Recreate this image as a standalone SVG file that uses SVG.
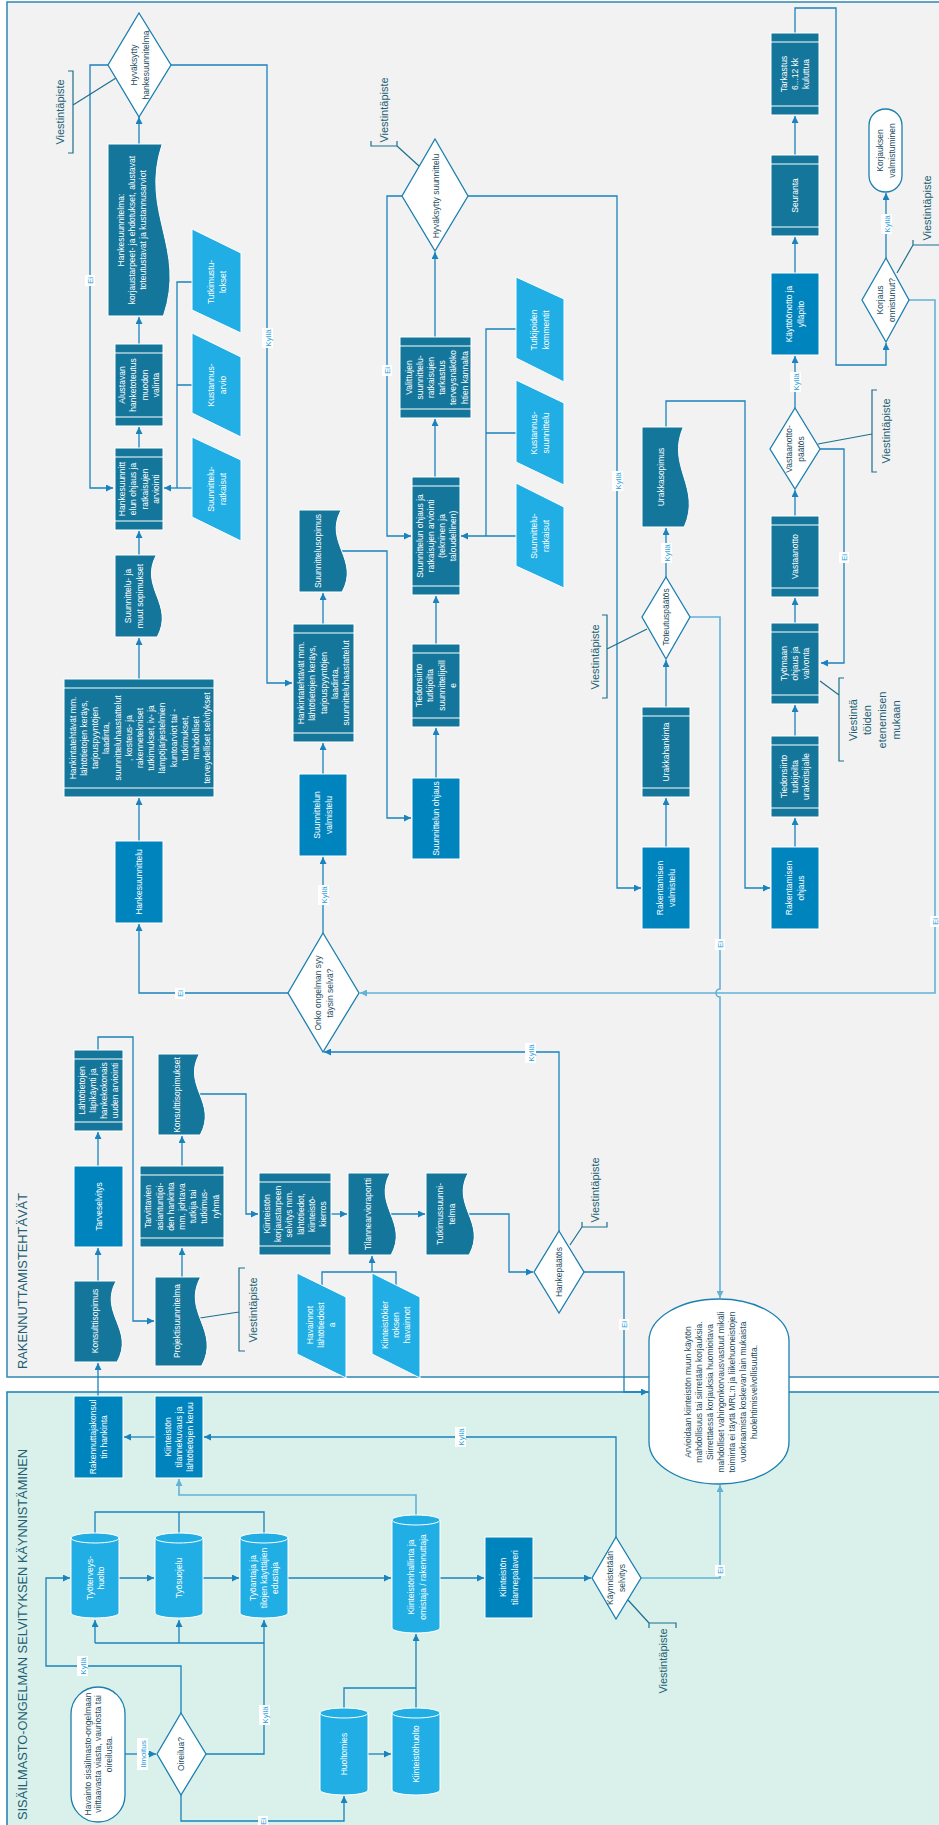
<svg xmlns="http://www.w3.org/2000/svg" width="939" height="1825" viewBox="0 0 939 1825">
<style>
.lt{fill:#f2f2f2;stroke:#2e87b2;stroke-width:1.5}
.lb{fill:#daf1eb;stroke:#1a7fb5;stroke-width:1.5}
.dk{fill:#15769b;stroke:#fff;stroke-width:1}
.pl{fill:#0084be;stroke:#fff;stroke-width:1}
.li{fill:#20aee4;stroke:#fff;stroke-width:1}
.bd{stroke:#fff;stroke-width:1.2}
.rim{fill:none;stroke:#fff;stroke-width:1}
.di{fill:#fff;stroke:#1b7fb0;stroke-width:1.3}
.tm{fill:#fff;stroke:#1b7fb0;stroke-width:1.3}
.c{fill:none;stroke:#1a82bd;stroke-width:1.3}
.ca{fill:none;stroke:#1a82bd;stroke-width:1.3;marker-end:url(#ah)}
.cl{fill:none;stroke:#62b2d8;stroke-width:1.6}
.cla{fill:none;stroke:#62b2d8;stroke-width:1.6;marker-end:url(#ahl)}
.br{fill:none;stroke:#1d6f8e;stroke-width:1.2}
text{font-family:"Liberation Sans",Arial,sans-serif;text-anchor:middle}
.tw{fill:#fff;font-size:8.5px}
.td{fill:#1d4d5f;font-size:8.5px}
.vp{fill:#235f74;font-size:11px}
.lbr{fill:#fff}
.lbt{fill:#2a9fda;font-size:8px}
.ttl{fill:#235f74;font-size:13px;text-anchor:start}
</style>
<defs>
<marker id="ah" viewBox="0 0 8 8" refX="8" refY="4" markerWidth="7" markerHeight="7" markerUnits="userSpaceOnUse" orient="auto"><path d="M0,0L8,4L0,8z" fill="#1a82bd"/></marker>
<marker id="ahl" viewBox="0 0 8 8" refX="8" refY="4" markerWidth="7" markerHeight="7" markerUnits="userSpaceOnUse" orient="auto"><path d="M0,0L8,4L0,8z" fill="#62b2d8"/></marker>
</defs>

<g id="lanes">
<rect class="lt" x="7" y="2" width="940" height="1375"/>
<rect class="lb" x="7" y="1392" width="940" height="445"/>
<text class="ttl" transform="translate(27,1369) rotate(-90)" textLength="176" lengthAdjust="spacingAndGlyphs">RAKENNUTTAMISTEHTÄVÄT</text>
<text class="ttl" transform="translate(27,1820) rotate(-90)" textLength="371" lengthAdjust="spacingAndGlyphs">SISÄILMASTO-ONGELMAN SELVITYKSEN KÄYNNISTÄMINEN</text>
</g>

<g id="connectors">
<path class="ca" d="M139,144V117"/>
<path class="ca" d="M108,65H90V488H113"/>
<path class="ca" d="M171,65H267V683H292"/>
<path class="ca" d="M139,344V317"/>
<path class="ca" d="M139,448V427"/>
<path class="ca" d="M139,555V531"/>
<path class="ca" d="M139,679V638"/>
<path class="ca" d="M139,841V798"/>
<path class="ca" d="M288,993H139V924"/>
<path class="c" d="M192,282H177V488M192,385H177"/>
<path class="ca" d="M192,488H164"/>
<path class="ca" d="M402,196H387V536H411"/>
<path class="ca" d="M468,196H617V888H641"/>
<path class="ca" d="M435,337V252"/>
<path class="ca" d="M435,477V419"/>
<path class="c" d="M516,329H486V536M516,433H486"/>
<path class="ca" d="M516,536H461"/>
<path class="ca" d="M342,551H387V818H411"/>
<path class="ca" d="M323,624V593"/>
<path class="ca" d="M323,774V743"/>
<path class="ca" d="M323,933V857"/>
<path class="ca" d="M436,644V596"/>
<path class="ca" d="M436,778V728"/>
<path class="ca" d="M666,577V528"/>
<path class="ca" d="M666,427V401H745V888H770"/>
<path class="ca" d="M666,707V660"/>
<path class="ca" d="M666,847V798"/>
<path class="cla" d="M690,617H720V989A4,4 0 0 0 720,997V1298"/>
<path class="ca" d="M795,33V8H836V365H886V343"/>
<path class="ca" d="M795,155V116"/>
<path class="ca" d="M795,273V237"/>
<path class="ca" d="M795,408V356"/>
<path class="ca" d="M795,516V490"/>
<path class="ca" d="M820,449H844V663H821"/>
<path class="ca" d="M795,623V598"/>
<path class="ca" d="M795,736V705"/>
<path class="ca" d="M795,847V818"/>
<path class="ca" d="M886,258V193"/>
<path class="cla" d="M909,300H935V993H360"/>
<path class="ca" d="M98,1050V1037H133V1321H154"/>
<path class="ca" d="M200,1094H246V1214H258"/>
<path class="ca" d="M98,1166V1132"/>
<path class="ca" d="M182,1166V1136"/>
<path class="ca" d="M331,1214H347"/>
<path class="ca" d="M391,1214H425"/>
<path class="ca" d="M469,1214H509V1272H533"/>
<path class="ca" d="M559,1231V1052H324"/>
<path class="ca" d="M584,1272H624V1392H648"/>
<path class="c" d="M322,1285V1272H396V1285"/>
<path class="ca" d="M372,1272V1256"/>
<path class="ca" d="M182,1277V1248"/>
<path class="ca" d="M98,1281V1248"/>
<path class="ca" d="M98,1396V1363"/>
<path class="ca" d="M155,1437H124"/>
<path class="ca" d="M616,1537V1437H204"/>
<path class="cla" d="M416,1515V1495H179V1479"/>
<path class="c" d="M95,1533V1512H264V1533M179,1512V1533"/>
<path class="ca" d="M119,1578H154"/>
<path class="ca" d="M203,1578H239"/>
<path class="ca" d="M288,1578H391"/>
<path class="ca" d="M440,1578H484"/>
<path class="ca" d="M533,1578H591"/>
<path class="cla" d="M641,1578H720V1485"/>
<path class="ca" d="M206,1754H264V1620"/>
<path class="c" d="M95,1643H264"/>
<path class="ca" d="M95,1643V1620"/>
<path class="ca" d="M179,1643V1620"/>
<path class="ca" d="M181,1713V1666H46V1578H70"/>
<path class="ca" d="M181,1795V1821H344V1796"/>
<path class="ca" d="M125,1754H156"/>
<path class="ca" d="M368,1754H391"/>
<path class="ca" d="M416,1708V1634"/>
<path class="c" d="M344,1708V1688H416"/>
<!-- labels -->
<g>
<rect class="lbr" x="85" y="275" width="10" height="11"/><text class="lbt" transform="translate(90,280.5) rotate(-90)" y="3">Ei</text>
<rect class="lbr" x="262" y="328" width="11" height="20"/><text class="lbt" transform="translate(267.5,338) rotate(-90)" y="3">Kyllä</text>
<rect class="lbr" x="175" y="988" width="10" height="11"/><text class="lbt" transform="translate(180,993.5) rotate(-90)" y="3">Ei</text>
<rect class="lbr" x="382" y="365" width="10" height="11"/><text class="lbt" transform="translate(387,370.5) rotate(-90)" y="3">Ei</text>
<rect class="lbr" x="612" y="471" width="11" height="20"/><text class="lbt" transform="translate(617.5,481) rotate(-90)" y="3">Kyllä</text>
<rect class="lbr" x="318" y="885" width="11" height="20"/><text class="lbt" transform="translate(323.5,895) rotate(-90)" y="3">Kyllä</text>
<rect class="lbr" x="661" y="543" width="11" height="20"/><text class="lbt" transform="translate(666.5,553) rotate(-90)" y="3">Kyllä</text>
<rect class="lbr" x="715" y="939" width="10" height="11"/><text class="lbt" transform="translate(720,944.5) rotate(-90)" y="3">Ei</text>
<rect class="lbr" x="790" y="372" width="11" height="20"/><text class="lbt" transform="translate(795.5,382) rotate(-90)" y="3">Kyllä</text>
<rect class="lbr" x="839" y="552" width="10" height="11"/><text class="lbt" transform="translate(844,557.5) rotate(-90)" y="3">Ei</text>
<rect class="lbr" x="881" y="214" width="11" height="20"/><text class="lbt" transform="translate(886.5,224) rotate(-90)" y="3">Kyllä</text>
<rect class="lbr" x="930" y="916" width="10" height="11"/><text class="lbt" transform="translate(935,921.5) rotate(-90)" y="3">Ei</text>
<rect class="lbr" x="525" y="1043" width="11" height="20"/><text class="lbt" transform="translate(530.5,1053) rotate(-90)" y="3">Kyllä</text>
<rect class="lbr" x="619" y="1319" width="10" height="11"/><text class="lbt" transform="translate(624,1324.5) rotate(-90)" y="3">Ei</text>
<rect class="lbr" x="455" y="1427" width="11" height="20"/><text class="lbt" transform="translate(460.5,1437) rotate(-90)" y="3">Kyllä</text>
<rect class="lbr" x="715" y="1565" width="10" height="11"/><text class="lbt" transform="translate(720,1570.5) rotate(-90)" y="3">Ei</text>
<rect class="lbr" x="259" y="1705" width="11" height="20"/><text class="lbt" transform="translate(264.5,1715) rotate(-90)" y="3">Kyllä</text>
<rect class="lbr" x="77" y="1656" width="11" height="20"/><text class="lbt" transform="translate(82.5,1666) rotate(-90)" y="3">Kyllä</text>
<rect class="lbr" x="258" y="1816" width="10" height="11"/><text class="lbt" transform="translate(263,1821.5) rotate(-90)" y="3">Ei</text>
<rect class="lbr" x="137" y="1738" width="11" height="32"/><text class="lbt" transform="translate(142.5,1754) rotate(-90)" y="3">Ilmoitus</text>
</g>
</g>

<g id="viestinta">
<path class="br" d="M116,78L73,105M68,71H73V153H68"/>
<text class="vp" transform="translate(60,112) rotate(-90)" y="3.9">Viestintäpiste</text>
<path class="br" d="M419,166L397,146M371,141V146H397V141"/>
<text class="vp" transform="translate(384,110) rotate(-90)" y="3.9">Viestintäpiste</text>
<path class="br" d="M647,629L607,649M602,615H607V698H602"/>
<text class="vp" transform="translate(595,657) rotate(-90)" y="3.9">Viestintäpiste</text>
<path class="br" d="M818,444L872,434M877,390H872V472H877"/>
<text class="vp" transform="translate(886,431) rotate(-90)" y="3.9">Viestintäpiste</text>
<path class="br" d="M820,681L839,695M844,678H839V761H844"/>
<text class="vp" transform="translate(874.5,720) rotate(-90)"><tspan x="0" y="-17.55">Viestintä</tspan><tspan x="0" y="-3.25">töiden</tspan><tspan x="0" y="11.05">etenemisen</tspan><tspan x="0" y="25.35">mukaan</tspan></text>
<path class="br" d="M897,273L913,245M913,240V245H939"/>
<text class="vp" transform="translate(927,208) rotate(-90)" y="3.9">Viestintäpiste</text>
<path class="br" d="M570,1245L582,1227M582,1222V1227H607V1222"/>
<text class="vp" transform="translate(595,1190) rotate(-90)" y="3.9">Viestintäpiste</text>
<path class="br" d="M200,1318L239,1312M245,1268H239V1351H245"/>
<text class="vp" transform="translate(253,1310) rotate(-90)" y="3.9">Viestintäpiste</text>
<path class="br" d="M628,1600L649,1623M649,1628V1623H676V1628"/>
<text class="vp" transform="translate(663,1661) rotate(-90)" y="3.9">Viestintäpiste</text>
</g>

<g id="n-hyv-hanke"><polygon class="di" points="139,13 171,65 139,117 108,65"/>
<text class="td" transform="translate(140,65) rotate(-90)"><tspan x="0" y="-2.6">Hyväksytty</tspan><tspan x="0" y="8.6">hankesuunnitelma</tspan></text></g>

<g id="n-hankesuunnitelma"><path class="dk" d="M108,144H162.2C139.5,212.8 186.75,247.2 163.4,316H108Z"/>
<text class="tw" transform="translate(132,230) rotate(-90)"><tspan x="0" y="-8.2">Hankesuunnitelma:</tspan><tspan x="0" y="3">korjaustarpeet- ja ehdotukset, alustavat</tspan><tspan x="0" y="14.2">toteutustavat ja kustannusarviot</tspan></text></g>

<g id="n-tutkimustulokset"><polygon class="li" points="192,229 241,253 241,333 192,310"/>
<text class="tw" transform="translate(217,282) rotate(-90)"><tspan x="0" y="-2.6">Tutkimustu-</tspan><tspan x="0" y="8.6">lokset</tspan></text></g>

<g id="n-alustavan"><rect class="dk" x="115" y="344" width="48" height="82"/><path class="bd" d="M115,353H163M115,417H163"/>
<text class="tw" transform="translate(139,385) rotate(-90)"><tspan x="0" y="-13.8">Alustavan</tspan><tspan x="0" y="-2.6">hanketoteutus</tspan><tspan x="0" y="8.6">muodon</tspan><tspan x="0" y="19.8">valinta</tspan></text></g>

<g id="n-kustannusarvio"><polygon class="li" points="192,333 241,357 241,437 192,413"/>
<text class="tw" transform="translate(217,385) rotate(-90)"><tspan x="0" y="-2.6">Kustannus-</tspan><tspan x="0" y="8.6">arvio</tspan></text></g>

<g id="n-hankeohjaus"><rect class="dk" x="115" y="448" width="48" height="82"/><path class="bd" d="M115,457H163M115,521H163"/>
<text class="tw" transform="translate(139,489) rotate(-90)"><tspan x="0" y="-13.8">Hankesuunnitt</tspan><tspan x="0" y="-2.6">elun ohjaus ja</tspan><tspan x="0" y="8.6">ratkaisujen</tspan><tspan x="0" y="19.8">arviointi</tspan></text></g>

<g id="n-suunnratk1"><polygon class="li" points="192,437 241,460 241,541 192,517"/>
<text class="tw" transform="translate(217,489) rotate(-90)"><tspan x="0" y="-2.6">Suunnittelu-</tspan><tspan x="0" y="8.6">ratkaisut</tspan></text></g>

<g id="n-muutsopimukset"><path class="dk" d="M115,555H156.3C139,587.8 175,604.2 157.2,637H115Z"/>
<text class="tw" transform="translate(134,596) rotate(-90)"><tspan x="0" y="-2.6">Suunnittelu- ja</tspan><tspan x="0" y="8.6">muut sopimukset</tspan></text></g>

<g id="n-hankinta1"><rect class="dk" x="64" y="679" width="150" height="118"/><path class="bd" d="M64,688H214M64,788H214"/>
<text class="tw" transform="translate(140,738) rotate(-90)"><tspan x="0" y="-64.2">Hankintatehtävät mm.</tspan><tspan x="0" y="-53">lähtötietojen keräys,</tspan><tspan x="0" y="-41.8">tarjouspyyntöjen</tspan><tspan x="0" y="-30.6">laadinta,</tspan><tspan x="0" y="-19.4">suunnitteluhaastattelut</tspan><tspan x="0" y="-8.2">, kosteus- ja</tspan><tspan x="0" y="3">rakennetekniset</tspan><tspan x="0" y="14.2">tutkimukset, iv- ja</tspan><tspan x="0" y="25.4">lämpöjärjestelmien</tspan><tspan x="0" y="36.6">kuntoarviot tai -</tspan><tspan x="0" y="47.8">tutkimukset,</tspan><tspan x="0" y="59">mahdolliset</tspan><tspan x="0" y="70.2">terveydelliset selvitykset</tspan></text></g>

<g id="n-hankesuunnittelu"><rect class="pl" x="115" y="841" width="48" height="82"/>
<text class="tw" transform="translate(139,882) rotate(-90)" y="3">Hankesuunnittelu</text></g>

<g id="n-hyv-suunn"><polygon class="di" points="435,139 468,196 435,251 402,196"/>
<text class="td" transform="translate(436,196) rotate(-90)" y="3">Hyväksytty suunnittelu</text></g>

<g id="n-valittujen"><rect class="dk" x="400" y="337" width="71" height="81"/><path class="bd" d="M400,346H471M400,409H471"/>
<text class="tw" transform="translate(436.5,377.5) rotate(-90)"><tspan x="0" y="-25">Valittujen</tspan><tspan x="0" y="-13.8">suunnittelu-</tspan><tspan x="0" y="-2.6">ratkaisujen</tspan><tspan x="0" y="8.6">tarkastus</tspan><tspan x="0" y="19.8">terveysnäköko</tspan><tspan x="0" y="31">htien kannalta</tspan></text></g>

<g id="n-tutkijoiden"><polygon class="li" points="516,277 564,299 564,382 516,358"/>
<text class="tw" transform="translate(540,330) rotate(-90)"><tspan x="0" y="-2.6">Tutkijoiden</tspan><tspan x="0" y="8.6">kommentit</tspan></text></g>

<g id="n-kustsuunn"><polygon class="li" points="516,380 564,403 564,485 516,462"/>
<text class="tw" transform="translate(540,433) rotate(-90)"><tspan x="0" y="-2.6">Kustannus-</tspan><tspan x="0" y="8.6">suunnittelu</tspan></text></g>

<g id="n-suunnratk2"><polygon class="li" points="516,483 564,507 564,588 516,566"/>
<text class="tw" transform="translate(540,536) rotate(-90)"><tspan x="0" y="-2.6">Suunnittelu-</tspan><tspan x="0" y="8.6">ratkaisut</tspan></text></g>

<g id="n-suunnohj-ratk"><rect class="dk" x="412" y="477" width="48" height="118"/><path class="bd" d="M412,486H460M412,586H460"/>
<text class="tw" transform="translate(436.5,536) rotate(-90)"><tspan x="0" y="-13.8">Suunnittelun ohjaus ja</tspan><tspan x="0" y="-2.6">ratkaisujen arviointi</tspan><tspan x="0" y="8.6">(tekninen ja</tspan><tspan x="0" y="19.8">taloudellinen)</tspan></text></g>

<g id="n-suunnittelusopimus"><path class="dk" d="M299,510H341.1C323.5,542.8 360.25,559.2 342.1,592H299Z"/>
<text class="tw" transform="translate(318,551) rotate(-90)" y="3">Suunnittelusopimus</text></g>

<g id="n-hankinta2"><rect class="dk" x="293" y="624" width="61" height="118"/><path class="bd" d="M293,633H354M293,733H354"/>
<text class="tw" transform="translate(323.5,683) rotate(-90)"><tspan x="0" y="-19.4">Hankintatehtävät mm.</tspan><tspan x="0" y="-8.2">lähtötietojen keräys,</tspan><tspan x="0" y="3">tarjouspyyntöjen</tspan><tspan x="0" y="14.2">laadinta,</tspan><tspan x="0" y="25.4">suunnitteluhaastattelut</tspan></text></g>

<g id="n-suunnvalm"><rect class="pl" x="299" y="774" width="48" height="82"/>
<text class="tw" transform="translate(323,815) rotate(-90)"><tspan x="0" y="-2.6">Suunnittelun</tspan><tspan x="0" y="8.6">valmistelu</tspan></text></g>

<g id="n-tiedonsiirto1"><rect class="dk" x="412" y="644" width="48" height="83"/><path class="bd" d="M412,653H460M412,718H460"/>
<text class="tw" transform="translate(436,685.5) rotate(-90)"><tspan x="0" y="-13.8">Tiedonsiirto</tspan><tspan x="0" y="-2.6">tutkijoilta</tspan><tspan x="0" y="8.6">suunnittelijoill</tspan><tspan x="0" y="19.8">e</tspan></text></g>

<g id="n-suunnohj"><rect class="pl" x="412" y="778" width="48" height="81"/>
<text class="tw" transform="translate(436,818.5) rotate(-90)" y="3">Suunnittelun ohjaus</text></g>

<g id="n-urakkasopimus"><path class="dk" d="M642,427H683.3C666,467 702,487 684.2,527H642Z"/>
<text class="tw" transform="translate(661,477) rotate(-90)" y="3">Urakkasopimus</text></g>

<g id="n-toteutuspaatos"><polygon class="di" points="666,577 690,617 666,659 642,617"/>
<text class="td" transform="translate(666,617) rotate(-90)" y="3">Toteutuspäätös</text></g>

<g id="n-urakkahankinta"><rect class="dk" x="642" y="707" width="48" height="90"/><path class="bd" d="M642,716H690M642,788H690"/>
<text class="tw" transform="translate(666,752) rotate(-90)" y="3">Urakkahankinta</text></g>

<g id="n-rakvalm"><rect class="pl" x="642" y="847" width="48" height="82"/>
<text class="tw" transform="translate(666,888) rotate(-90)"><tspan x="0" y="-2.6">Rakentamisen</tspan><tspan x="0" y="8.6">valmistelu</tspan></text></g>

<g id="n-tarkastus"><rect class="dk" x="771" y="33" width="48" height="82"/><path class="bd" d="M771,42H819M771,106H819"/>
<text class="tw" transform="translate(795,74) rotate(-90)"><tspan x="0" y="-8.2">Tarkastus</tspan><tspan x="0" y="3">6...12 kk</tspan><tspan x="0" y="14.2">kuluttua</tspan></text></g>

<g id="n-seuranta"><rect class="dk" x="771" y="155" width="48" height="81"/><path class="bd" d="M771,164H819M771,227H819"/>
<text class="tw" transform="translate(795,195.5) rotate(-90)" y="3">Seuranta</text></g>

<g id="n-kayttoonotto"><rect class="pl" x="771" y="273" width="48" height="82"/>
<text class="tw" transform="translate(795,314) rotate(-90)"><tspan x="0" y="-2.6">Käyttöönotto ja</tspan><tspan x="0" y="8.6">ylläpito</tspan></text></g>

<g id="n-vastaanottopaatos"><polygon class="di" points="795,408 820,449 795,489 770,449"/>
<text class="td" transform="translate(795,449) rotate(-90)"><tspan x="0" y="-2.6">Vastaanotto-</tspan><tspan x="0" y="8.6">päätös</tspan></text></g>

<g id="n-vastaanotto"><rect class="dk" x="771" y="516" width="48" height="81"/><path class="bd" d="M771,525H819M771,588H819"/>
<text class="tw" transform="translate(795,556.5) rotate(-90)" y="3">Vastaanotto</text></g>

<g id="n-tyomaan"><rect class="dk" x="771" y="623" width="48" height="81"/><path class="bd" d="M771,632H819M771,695H819"/>
<text class="tw" transform="translate(795,663.5) rotate(-90)"><tspan x="0" y="-8.2">Työmaan</tspan><tspan x="0" y="3">ohjaus ja</tspan><tspan x="0" y="14.2">valvonta</tspan></text></g>

<g id="n-tiedonsiirto2"><rect class="dk" x="771" y="736" width="48" height="81"/><path class="bd" d="M771,745H819M771,808H819"/>
<text class="tw" transform="translate(795,776.5) rotate(-90)"><tspan x="0" y="-8.2">Tiedonsiirto</tspan><tspan x="0" y="3">tutkijoilta</tspan><tspan x="0" y="14.2">urakoitsijalle</tspan></text></g>

<g id="n-rakohj"><rect class="pl" x="771" y="847" width="48" height="82"/>
<text class="tw" transform="translate(795,888) rotate(-90)"><tspan x="0" y="-2.6">Rakentamisen</tspan><tspan x="0" y="8.6">ohjaus</tspan></text></g>

<g id="n-korjauksen"><rect class="tm" x="869" y="109" width="33" height="83" rx="16.5" ry="16.5"/>
<text class="td" transform="translate(886,150.5) rotate(-90)"><tspan x="0" y="-2.6">Korjauksen</tspan><tspan x="0" y="8.6">valmistuminen</tspan></text></g>

<g id="n-korjaus-onn"><polygon class="di" points="886,258 909,300 886,342 862,300"/>
<text class="td" transform="translate(886,300) rotate(-90)"><tspan x="0" y="-2.6">Korjaus</tspan><tspan x="0" y="8.6">onnistunut?</tspan></text></g>

<g id="n-onko"><polygon class="di" points="323,933 359,993 323,1052 288,993"/>
<text class="td" transform="translate(324,993) rotate(-90)"><tspan x="0" y="-2.6">Onko ongelman syy</tspan><tspan x="0" y="8.6">täysin selvä?</tspan></text></g>

<g id="n-lahtotietojen"><rect class="dk" x="74" y="1050" width="49" height="81"/><path class="bd" d="M74,1059H123M74,1122H123"/>
<text class="tw" transform="translate(98.5,1090.5) rotate(-90)"><tspan x="0" y="-13.8">Lähtötietojen</tspan><tspan x="0" y="-2.6">läpikäynti ja</tspan><tspan x="0" y="8.6">hankekokonais</tspan><tspan x="0" y="19.8">uuden arviointi</tspan></text></g>

<g id="n-konsulttisopimukset"><path class="dk" d="M158,1054H199.3C182,1086.4 218,1102.6 200.2,1135H158Z"/>
<text class="tw" transform="translate(177,1095) rotate(-90)" y="3">Konsulttisopimukset</text></g>

<g id="n-tarveselvitys"><rect class="pl" x="74" y="1166" width="49" height="81"/>
<text class="tw" transform="translate(98.5,1206.5) rotate(-90)" y="3">Tarveselvitys</text></g>

<g id="n-tarvittavien"><rect class="dk" x="140" y="1166" width="84" height="81"/><path class="bd" d="M140,1175H224M140,1238H224"/>
<text class="tw" transform="translate(182,1206.5) rotate(-90)"><tspan x="0" y="-30.6">Tarvittavien</tspan><tspan x="0" y="-19.4">asiantuntijoi-</tspan><tspan x="0" y="-8.2">den hankinta</tspan><tspan x="0" y="3">mm. johtava</tspan><tspan x="0" y="14.2">tutkija tai</tspan><tspan x="0" y="25.4">tutkimus-</tspan><tspan x="0" y="36.6">ryhmä</tspan></text></g>

<g id="n-korjaustarve"><rect class="dk" x="259" y="1173" width="72" height="82"/><path class="bd" d="M259,1182H331M259,1246H331"/>
<text class="tw" transform="translate(295,1214) rotate(-90)"><tspan x="0" y="-25">Kiinteistön</tspan><tspan x="0" y="-13.8">korjaustarpeen</tspan><tspan x="0" y="-2.6">selvitys mm.</tspan><tspan x="0" y="8.6">lähtötiedot,</tspan><tspan x="0" y="19.8">kiinteistö-</tspan><tspan x="0" y="31">kierros</tspan></text></g>

<g id="n-tilannearvio"><path class="dk" d="M348,1173H390.1C372.5,1205.8 409.25,1222.2 391.1,1255H348Z"/>
<text class="tw" transform="translate(368,1214) rotate(-90)" y="3">Tilannearvioraportti</text></g>

<g id="n-tutkimussuunnitelma"><path class="dk" d="M426,1173H468.1C450.5,1205.8 487.25,1222.2 469.1,1255H426Z"/>
<text class="tw" transform="translate(446,1214) rotate(-90)"><tspan x="0" y="-2.6">Tutkimussuunni-</tspan><tspan x="0" y="8.6">telma</tspan></text></g>

<g id="n-hankepaatos"><polygon class="di" points="559,1231 584,1272 559,1313 534,1272"/>
<text class="td" transform="translate(559,1272) rotate(-90)" y="3">Hankepäätös</text></g>

<g id="n-havainnot"><polygon class="li" points="297,1273 346,1297 346,1378 297,1354"/>
<text class="tw" transform="translate(321,1325) rotate(-90)"><tspan x="0" y="-8.2">Havainnot</tspan><tspan x="0" y="3">lähtötiedoist</tspan><tspan x="0" y="14.2">a</tspan></text></g>

<g id="n-kierroshavainnot"><polygon class="li" points="372,1273 420,1297 420,1378 372,1354"/>
<text class="tw" transform="translate(396,1325) rotate(-90)"><tspan x="0" y="-8.2">Kiinteistökier</tspan><tspan x="0" y="3">roksen</tspan><tspan x="0" y="14.2">havainnot</tspan></text></g>

<g id="n-projektisuunnitelma"><path class="dk" d="M155,1277H200.6C181.5,1312.6 221.25,1330.4 201.6,1366H155Z"/>
<text class="tw" transform="translate(177,1321) rotate(-90)" y="3">Projektisuunnitelma</text></g>

<g id="n-konsulttisopimus"><path class="dk" d="M74,1281H116.1C98.5,1313.4 135.25,1329.6 117.1,1362H74Z"/>
<text class="tw" transform="translate(95,1321) rotate(-90)" y="3">Konsulttisopimus</text></g>

<g id="n-rakennuttajakonsultti"><rect class="pl" x="74" y="1396" width="49" height="82"/>
<text class="tw" transform="translate(98.5,1437) rotate(-90)"><tspan x="0" y="-2.6">Rakennuttajakonsul</tspan><tspan x="0" y="8.6">tin hankinta</tspan></text></g>

<g id="n-tilannekuvaus"><rect class="pl" x="155" y="1396" width="48" height="82"/>
<text class="tw" transform="translate(179,1437) rotate(-90)"><tspan x="0" y="-8.2">Kiinteistön</tspan><tspan x="0" y="3">tilannekuvaus ja</tspan><tspan x="0" y="14.2">lähtötietojen keruu</tspan></text></g>

<g id="n-tyoterveyshuolto"><path class="li" d="M71,1538A24,5 0 0 1 119,1538V1613A24,5 0 0 1 71,1613Z"/><path class="rim" d="M71,1538A24,5 0 0 0 119,1538"/>
<text class="tw" transform="translate(95.5,1578) rotate(-90)"><tspan x="0" y="-2.6">Työterveys-</tspan><tspan x="0" y="8.6">huolto</tspan></text></g>

<g id="n-tyosuojelu"><path class="li" d="M155,1538A24,5 0 0 1 203,1538V1613A24,5 0 0 1 155,1613Z"/><path class="rim" d="M155,1538A24,5 0 0 0 203,1538"/>
<text class="tw" transform="translate(179,1578) rotate(-90)" y="3">Työsuojelu</text></g>

<g id="n-tyoantaja"><path class="li" d="M240,1538A24,5 0 0 1 288,1538V1613A24,5 0 0 1 240,1613Z"/><path class="rim" d="M240,1538A24,5 0 0 0 288,1538"/>
<text class="tw" transform="translate(264,1578) rotate(-90)"><tspan x="0" y="-8.2">Työantaja ja</tspan><tspan x="0" y="3">tilojen käyttäjien</tspan><tspan x="0" y="14.2">edustaja</tspan></text></g>

<g id="n-kiinteistonhallinta"><path class="li" d="M392,1520A24,5 0 0 1 440,1520V1628A24,5 0 0 1 392,1628Z"/><path class="rim" d="M392,1520A24,5 0 0 0 440,1520"/>
<text class="tw" transform="translate(417,1577) rotate(-90)"><tspan x="0" y="-2.6">Kiinteistönhallinta ja</tspan><tspan x="0" y="8.6">omistaja / rakennuttaja</tspan></text></g>

<g id="n-tilannepalaveri"><rect class="pl" x="485" y="1537" width="48" height="81"/>
<text class="tw" transform="translate(509,1577.5) rotate(-90)"><tspan x="0" y="-2.6">Kiinteistön</tspan><tspan x="0" y="8.6">tilannepalaveri</tspan></text></g>

<g id="n-kaynnistetaan"><polygon class="di" points="616,1537 641,1578 616,1619 592,1578"/>
<text class="td" transform="translate(616,1578) rotate(-90)"><tspan x="0" y="-2.6">Käynnistetään</tspan><tspan x="0" y="8.6">selvitys</tspan></text></g>

<g id="n-huoltomies"><path class="li" d="M320,1713A24,5 0 0 1 368,1713V1790A24,5 0 0 1 320,1790Z"/><path class="rim" d="M320,1713A24,5 0 0 0 368,1713"/>
<text class="tw" transform="translate(344,1754) rotate(-90)" y="3">Huoltomies</text></g>

<g id="n-kiinteistohuolto"><path class="li" d="M392,1713A24,5 0 0 1 440,1713V1790A24,5 0 0 1 392,1790Z"/><path class="rim" d="M392,1713A24,5 0 0 0 440,1713"/>
<text class="tw" transform="translate(416,1754) rotate(-90)" y="3">Kiinteistöhuolto</text></g>

<g id="n-oireilua"><polygon class="di" points="181,1713 206,1754 181,1795 157,1754"/>
<text class="td" transform="translate(181,1754) rotate(-90)" y="3">Oireilua?</text></g>

<g id="n-havainto"><rect class="tm" x="71" y="1687" width="54" height="135" rx="27" ry="27"/>
<text class="td" transform="translate(98,1754) rotate(-90)"><tspan x="0" y="-7.5">Havainto sisäilmasto-ongelmaan</tspan><tspan x="0" y="3">viittaavasta viasta, vauriosta tai</tspan><tspan x="0" y="13.5">oireilusta.</tspan></text></g>

<g id="n-arvioidaan"><rect class="tm" x="649" y="1299" width="140" height="185" rx="70" ry="42"/>
<text class="td" transform="translate(720.5,1392) rotate(-90)"><tspan x="0" y="-30">Arvioidaan kiinteistön muun käytön</tspan><tspan x="0" y="-19">mahdollisuus tai siirretään korjauksia.</tspan><tspan x="0" y="-8">Siirrettäessä korjauksia huomioitava</tspan><tspan x="0" y="3">mahdolliset vahingonkorvausvastuut mikäli</tspan><tspan x="0" y="14">toiminta ei täytä MRL:n ja liikehuoneistojen</tspan><tspan x="0" y="25">vuokraamista koskevan lain mukaista</tspan><tspan x="0" y="36">huolehtimisvelvollisuutta.</tspan></text></g>
</svg>
